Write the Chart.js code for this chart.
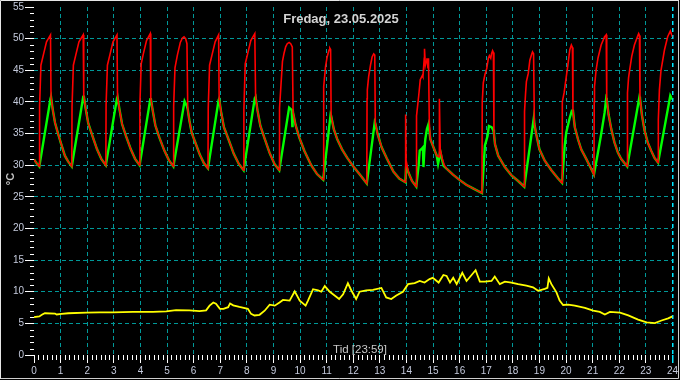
<!DOCTYPE html>
<html>
<head>
<meta charset="utf-8">
<script src="https://cdn.jsdelivr.net/npm/chart.js@4/dist/chart.umd.min.js"></script>
<style>
  html, body { margin: 0; padding: 0; background: #000; overflow: hidden; }
  canvas { display: block; }
</style>
</head>
<body>
<canvas id="c" width="680" height="380"></canvas>
<script>
// ---- data (hour of day, °C) ----
const titleText = 'Fredag, 23.05.2025';
const xAxisText = 'Tid [23:59]';
const yAxisText = '°C';
const hourTicks = [0,1,2,3,4,5,6,7,8,9,10,11,12,13,14,15,16,17,18,19,20,21,22,23,24];
const tempTicks = [0,5,10,15,20,25,30,35,40,45,50,55];

// cooling segments where the red and green curves coincide
const cooling = [
 [0.00,30.9],[0.10,30.3],[0.20,29.8],
 [0.64,40.8],[0.70,38.9],[0.79,36.7],[0.91,34.9],[1.04,33.1],[1.16,31.5],[1.28,30.6],[1.42,29.8],
 [1.87,41.0],[1.94,39.0],[2.04,36.6],[2.19,34.7],[2.37,32.5],[2.53,31.0],[2.70,30.0],
 [3.14,40.8],[3.21,38.9],[3.31,36.5],[3.46,34.6],[3.64,32.5],[3.80,31.0],[3.97,30.0],
 [4.39,40.6],[4.46,38.7],[4.56,36.3],[4.71,34.4],[4.90,32.3],[5.07,30.8],[5.24,29.8],
 [5.78,38.8],[5.84,37.1],[5.93,35.1],[6.07,33.5],[6.24,31.6],[6.39,30.3],[6.54,29.5],
 [6.96,40.5],[7.03,38.5],[7.14,36.0],[7.31,34.1],[7.51,31.8],[7.70,30.2],[7.88,29.2],
 [8.33,40.8],[8.40,38.7],[8.51,36.2],[8.67,34.2],[8.86,31.9],[9.04,30.2],[9.22,29.2],
 [9.74,38.3],[9.83,36.4],[9.97,34.4],[10.17,32.2],[10.42,30.0],[10.64,28.6],[10.87,27.7],
 [11.17,37.8],[11.27,35.7],[11.40,34.1],[11.58,32.5],[11.77,31.2],[12.02,29.7],[12.27,28.4],[12.51,27.1],
 [12.83,36.6],[12.92,34.9],[13.06,32.9],[13.26,31.1],[13.51,29.0],[13.73,27.9],[13.96,27.3],
 [14.08,28.8],[14.21,27.5],[14.37,26.6],
 [15.52,29.4],[15.75,28.5],[16.02,27.6],[16.25,26.9],[16.52,26.3],[16.84,25.6],
 [17.29,35.0],[17.33,33.3],[17.45,31.5],[17.70,29.7],[17.95,28.4],[18.20,27.5],[18.43,26.6],
 [18.81,36.5],[18.88,34.9],[19.00,32.5],[19.20,30.7],[19.45,29.2],[19.70,27.9],[19.85,27.2],
 [20.26,38.6],[20.33,36.0],[20.45,34.1],[20.57,32.5],[20.76,31.0],[20.95,29.4],[21.05,28.5],
 [21.53,40.4],[21.60,38.0],[21.70,35.7],[21.82,33.6],[21.95,32.0],[22.07,31.0],[22.30,29.8],
 [22.78,40.6],[22.85,38.0],[22.95,35.5],[23.07,33.6],[23.20,32.3],[23.32,31.2],[23.46,30.4]
];

// red curve while heating
const redHeating = [
 [0.21,39.3],[0.26,45.8],[0.35,47.4],[0.47,49.5],[0.62,50.6],
 [1.43,39.3],[1.48,45.8],[1.57,47.4],[1.69,49.5],[1.85,50.6],
 [2.71,39.5],[2.76,45.8],[2.85,47.4],[2.97,49.5],[3.12,50.6],
 [3.98,39.5],[4.03,46.0],[4.11,47.6],[4.23,49.7],[4.37,50.8],
 [5.25,39.3],[5.30,45.4],[5.39,47.4],[5.50,49.4],[5.58,50.1],[5.64,50.3],[5.70,50.0],[5.75,49.2],
 [6.55,39.0],[6.60,45.8],[6.69,47.4],[6.81,49.5],[6.94,50.6],
 [7.89,38.7],[7.94,46.0],[8.03,47.6],[8.15,49.7],[8.30,50.8],
 [9.23,39.0],[9.28,42.4],[9.34,46.4],[9.40,47.7],[9.46,48.7],[9.52,49.2],[9.59,49.4],[9.65,49.2],[9.71,48.7],
 [10.88,41.0],[10.90,42.4],[10.96,45.6],[11.02,47.1],[11.09,48.2],[11.12,48.5],[11.15,48.3],
 [12.52,40.5],[12.53,41.9],[12.58,44.0],[12.65,45.8],[12.71,47.1],[12.77,47.6],[12.81,47.4],
 [13.97,38.0],[13.99,30.7],
 [14.38,37.8],[14.46,40.9],[14.52,43.5],[14.60,44.2],[14.62,44.0],[14.67,46.9],[14.68,48.4],[14.71,45.8],
 [14.74,46.4],[14.77,46.9],[14.81,45.3],[14.83,46.9],[14.86,36.7],[14.90,34.1],[15.02,32.8],[15.14,31.5],
 [15.23,31.3],[15.24,40.5],[15.27,32.5],[15.35,31.0],[15.42,30.0],
 [16.85,40.0],[16.89,43.0],[16.95,44.3],[17.02,45.3],[17.08,46.9],[17.12,47.3],[17.17,46.9],[17.20,47.6],[17.24,48.1],[17.27,47.8],
 [18.44,38.5],[18.48,41.4],[18.51,43.2],[18.58,44.5],[18.64,46.6],[18.70,47.4],[18.74,47.9],[18.78,47.6],
 [19.86,40.0],[19.93,41.5],[20.01,44.0],[20.07,45.8],[20.14,48.2],[20.20,49.0],[20.24,48.6],
 [21.06,40.0],[21.07,42.4],[21.13,45.0],[21.20,46.9],[21.32,49.0],[21.45,50.3],[21.51,50.6],
 [22.31,41.4],[22.35,43.8],[22.39,45.0],[22.47,47.2],[22.57,49.0],[22.70,50.5],[22.73,50.8],[22.76,50.5],
 [23.47,37.2],[23.51,41.9],[23.57,45.0],[23.70,48.2],[23.82,50.3],[23.92,51.2],[24.00,50.3]
];

// green curve while heating
const greenHeating = [
 [0.62,40.5],
 [1.85,40.8],
 [3.12,40.6],
 [4.37,40.4],
 [5.66,40.1],[5.75,39.3],
 [6.94,40.3],
 [8.30,40.6],
 [9.59,39.1],[9.69,38.7],[9.71,36.2],[9.72,38.8],
 [11.15,38.0],
 [12.81,36.8],
 [13.99,29.9],
 [14.46,30.0],[14.50,32.3],[14.58,32.6],[14.62,32.8],[14.64,29.7],[14.67,32.0],[14.71,34.1],[14.77,35.7],
 [14.83,36.5],[14.90,34.1],[15.02,32.8],[15.14,31.5],[15.19,30.2],[15.24,31.3],[15.27,32.3],[15.33,31.0],[15.40,29.9],
 [16.95,33.1],[17.05,34.6],[17.10,36.2],[17.20,36.0],[17.26,35.6],
 [18.79,37.5],
 [19.95,33.1],[20.01,35.2],[20.14,37.5],[20.22,38.6],
 [21.20,32.0],[21.32,34.9],[21.45,38.3],[21.51,40.6],
 [22.76,40.8],
 [23.92,41.0],[24.00,40.4]
];

// yellow (outdoor) curve
const outdoor = [
 [0.00,6.0],[0.20,6.1],[0.31,6.4],[0.41,6.6],[0.79,6.55],[0.85,6.4],[1.04,6.5],[1.29,6.6],[1.97,6.7],
 [2.47,6.75],[2.97,6.75],[3.72,6.8],[4.47,6.8],[4.97,6.9],[5.34,7.1],[5.84,7.05],[6.22,6.95],[6.47,7.05],
 [6.60,7.8],[6.74,8.3],[6.84,8.1],[6.99,7.3],[7.12,7.3],[7.30,7.55],[7.37,8.15],[7.49,7.85],[7.72,7.6],
 [8.04,7.3],[8.16,6.5],[8.29,6.25],[8.48,6.35],[8.67,7.0],[8.86,7.95],[9.05,7.8],[9.23,8.3],[9.36,8.7],
 [9.61,8.6],[9.80,10.05],[9.99,8.6],[10.21,7.8],[10.30,8.6],[10.49,10.4],[10.68,10.2],[10.80,10.0],
 [10.93,10.9],[11.12,10.0],[11.24,9.6],[11.47,8.85],[11.62,9.6],[11.80,11.35],[11.93,10.2],[12.11,8.85],
 [12.24,10.0],[12.49,10.2],[12.74,10.3],[13.06,10.6],[13.24,9.1],[13.43,8.85],[13.62,9.4],[13.87,10.0],
 [14.06,11.2],[14.31,11.35],[14.50,11.7],[14.68,11.45],[14.87,12.0],[14.99,12.2],[15.21,11.45],[15.39,12.65],
 [15.51,12.5],[15.64,11.45],[15.76,12.2],[15.89,11.2],[16.10,13.0],[16.26,11.7],[16.45,12.65],[16.60,13.4],
 [16.76,11.6],[16.95,11.6],[17.20,11.7],[17.32,12.4],[17.51,11.2],[17.70,11.6],[17.95,11.45],[18.20,11.2],
 [18.51,10.95],[18.76,10.7],[18.95,10.15],[19.20,10.45],[19.30,10.6],[19.35,12.1],[19.45,11.2],[19.64,9.9],
 [19.76,8.6],[19.89,7.9],[20.08,7.95],[20.33,7.8],[20.71,7.45],[21.02,7.0],[21.27,6.8],[21.46,6.4],
 [21.65,6.8],[22.03,6.7],[22.34,6.25],[22.71,5.6],[23.03,5.15],[23.34,5.05],[23.59,5.45],[23.84,5.8],[24.00,6.1]
];

// ---- build datasets ----
function toPoints(list) {
  return list.slice().sort((a, b) => a[0] - b[0]).map(p => ({ x: p[0], y: p[1] }));
}
const redData = toPoints(cooling.concat(redHeating));
const greenData = toPoints(cooling.concat(greenHeating));
const yellowData = toPoints(outdoor);

const FONT = '"Liberation Sans", Arial, sans-serif';
const LABEL_COLOR = '#c4cadc';
const GRID_COLOR = '#009898';

const decor = {
  id: 'decor',
  afterDraw(chart) {
    const { ctx, chartArea: ca, scales } = chart;
    const xs = scales.x, ys = scales.y;
    ctx.save();
    // minor ticks
    ctx.strokeStyle = '#ffffff';
    ctx.lineWidth = 1;
    ctx.beginPath();
    for (let v = tempTicks[0]; v <= tempTicks[tempTicks.length - 1]; v++) {
      if (tempTicks.includes(v)) continue;
      const py = Math.round(ys.getPixelForValue(v)) + 0.5;
      ctx.moveTo(ca.left - 4, py); ctx.lineTo(ca.left, py);
    }
    for (let i = 0; i <= 24 * 6; i++) {
      if (i % 6 === 0) continue;
      const px = Math.round(xs.getPixelForValue(i / 6)) + 0.5;
      ctx.moveTo(px, ca.bottom); ctx.lineTo(px, ca.bottom + 5);
    }
    ctx.stroke();

    // title
    ctx.fillStyle = '#d4d4d4';
    ctx.textAlign = 'center';
    ctx.textBaseline = 'alphabetic';
    ctx.font = 'bold 13px ' + FONT;
    ctx.fillText(titleText, 341, 22.5);
    // x axis text
    ctx.font = '11.5px ' + FONT;
    ctx.fillStyle = '#c8c8c8';
    ctx.fillText(xAxisText, 360, 352.5);
    // y axis text
    ctx.save();
    ctx.translate(11, 179);
    ctx.rotate(-Math.PI / 2);
    ctx.font = 'bold 11px ' + FONT;
    ctx.textBaseline = 'middle';
    ctx.fillText(yAxisText, 0, 0);
    ctx.restore();

    // frame
    ctx.strokeStyle = '#e6e6e6';
    ctx.beginPath();
    ctx.moveTo(0.5, 379); ctx.lineTo(0.5, 0.5); ctx.lineTo(679, 0.5);
    ctx.stroke();
    ctx.strokeStyle = '#cfcfcf';
    ctx.beginPath();
    ctx.moveTo(1, 378.5); ctx.lineTo(678.5, 378.5); ctx.lineTo(678.5, 1);
    ctx.stroke();
    ctx.restore();
  }
};

new Chart(document.getElementById('c'), {
  type: 'line',
  data: {
    datasets: [
      { label: 'red', data: redData, borderColor: '#ff0000', borderWidth: 1.6, pointRadius: 0, tension: 0, order: 0 },
      { label: 'green', data: greenData, borderColor: '#00ff00', borderWidth: 2.4, pointRadius: 0, tension: 0, order: 1 },
      { label: 'yellow', data: yellowData, borderColor: '#ffff00', borderWidth: 1.8, pointRadius: 0, tension: 0, order: 2 }
    ]
  },
  options: {
    responsive: false,
    animation: false,
    devicePixelRatio: 1,
    layout: { padding: { top: 3, right: 5, left: 0, bottom: 0 } },
    plugins: { legend: { display: false }, tooltip: { enabled: false }, title: { display: false } },
    scales: {
      x: {
        type: 'linear', min: hourTicks[0], max: hourTicks[hourTicks.length - 1],
        afterBuildTicks(s) { s.ticks = hourTicks.map(v => ({ value: v })); },
        ticks: { color: LABEL_COLOR, font: { size: 10, family: FONT }, padding: 2, maxRotation: 0, autoSkip: false },
        grid: {
          color: c => c.tick && c.tick.value === 0 ? 'rgba(0,0,0,0)' : (c.tick && c.tick.value === 24 ? '#00e6ff' : GRID_COLOR),
          lineWidth: c => c.tick && c.tick.value === 24 ? 1.5 : 1,
          tickColor: c => c.tick && c.tick.value === 24 ? '#00e6ff' : '#ffffff',
          tickLength: 8
        },
        border: { display: false, dash: [4, 3] },
        afterFit(s) { s.height = 25; }
      },
      y: {
        type: 'linear', min: tempTicks[0], max: tempTicks[tempTicks.length - 1],
        afterBuildTicks(s) { s.ticks = tempTicks.map(v => ({ value: v })); },
        ticks: { color: LABEL_COLOR, font: { size: 10, family: FONT }, padding: 1 },
        grid: {
          color: c => c.tick && (c.tick.value === 0 || c.tick.value === 55) ? 'rgba(0,0,0,0)' : GRID_COLOR,
          lineWidth: 1,
          tickColor: '#ffffff',
          tickLength: 9
        },
        border: { display: false, dash: [4, 3] },
        afterFit(s) { s.width = 34; }
      }
    }
  },
  plugins: [decor]
});
</script>
</body>
</html>
